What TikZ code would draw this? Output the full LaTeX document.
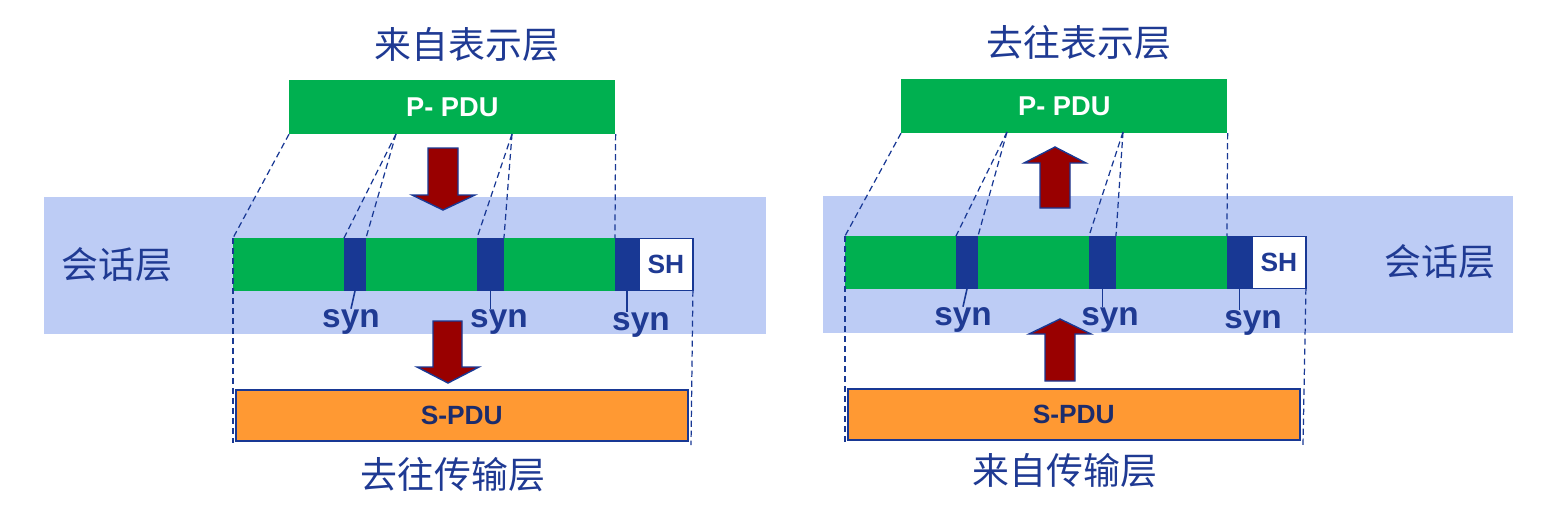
\documentclass[tikz,border=0pt]{standalone}
\usepackage{fontspec}
\setmainfont{Liberation Sans}
\newfontfamily\cjk{Noto Sans CJK SC}
\usetikzlibrary{positioning}

\definecolor{pdugreen}{HTML}{00B050}
\definecolor{synblue}{HTML}{183894}
\definecolor{bandblue}{HTML}{BDCCF5}
\definecolor{spduorange}{HTML}{FF9933}
\definecolor{arrowred}{HTML}{990000}
\definecolor{textblue}{HTML}{1F3A93}
\definecolor{navy}{HTML}{1C2C6C}

\tikzset{
  band/.style={fill=bandblue},
  ppdu/.style={rectangle, fill=pdugreen, inner sep=0pt, anchor=north west,
    minimum width=6.52cm, minimum height=1.07cm, text=white,
    font=\bfseries\fontsize{15.5}{18}\selectfont},
  spdu/.style={rectangle, fill=spduorange, draw=synblue, line width=0.9pt,
    inner sep=0pt, anchor=north west, minimum width=9.04cm, minimum height=1.02cm,
    text=navy, font=\bfseries\fontsize{15}{18}\selectfont},
  dseg/.style={rectangle, fill=pdugreen, inner sep=0pt, outer sep=0pt,
    minimum width=2.22cm, minimum height=1.06cm},
  sseg/.style={rectangle, fill=synblue, inner sep=0pt, outer sep=0pt, minimum height=1.06cm},
  shbox/.style={rectangle, fill=white, draw=synblue, line width=0.9pt, inner sep=0pt,
    outer sep=0pt, minimum width=1.08cm, minimum height=1.04cm, text=textblue,
    font=\bfseries\fontsize{15}{18}\selectfont},
  synlabel/.style={inner sep=0pt, anchor=base, text=textblue, font=\bfseries\fontsize{19}{22}\selectfont},
  synline/.style={synblue, line width=0.9pt},
  guide/.style={synblue, dash pattern=on 3.5pt off 2.2pt, line width=0.7pt},
  bigarrow/.style={fill=arrowred, draw=synblue, line width=0.8pt, line join=miter},
  layername/.style={text=textblue, font=\cjk\fontsize{21}{24}\selectfont},
}

\begin{document}
\begin{tikzpicture}[x=0.02cm, y=-0.02cm]
  \useasboundingbox (0,0) rectangle (1541,522);

  % left: P-PDU from the presentation layer goes down
  \fill[band] (44,197) rectangle (766,334);
  \node[layername] (titleL) at (467,45) {来自表示层};
  \node[layername] (sessL) at (117,265) {会话层};
  \node[ppdu] (pL) at (289,80) {P- PDU};

  \node[dseg, anchor=north west] (g1L) at (233,238) {};
  \node[sseg, minimum width=0.44cm, right=0pt of g1L] (s1L) {};
  \node[dseg, right=0pt of s1L] (g2L) {};
  \node[sseg, minimum width=0.54cm, right=0pt of g2L] (s2L) {};
  \node[dseg, right=0pt of s2L] (g3L) {};
  \node[sseg, minimum width=0.48cm, right=0pt of g3L] (s3L) {};
  \node[shbox, right=0pt of s3L] (shL) {SH};

  \coordinate (aL) at (396,134);
  \coordinate (bL) at (512,134);
  \coordinate (footL1) at (233,443);
  \coordinate (footL2) at (691,445);
  \draw[guide] (pL.south west) -- (g1L.north west);
  \draw[guide] (aL) -- (s1L.north west);
  \draw[guide] (aL) -- (g2L.north west);
  \draw[guide] (bL) -- (s2L.north west);
  \draw[guide] (bL) -- (g3L.north west);
  \draw[guide] (pL.south east) -- (g3L.north east);

  \node[spdu] (sL) at (235,389) {S-PDU};
  \node[layername] (destL) at (453,475) {去往传输层};
  \draw[guide] (g1L.north west) -- (footL1);
  \draw[guide] (shL.south east) -- (footL2);

  \node[synlabel] (syn1L) at (351,327) {syn};
  \node[synlabel] (syn2L) at (499,327) {syn};
  \node[synlabel] (syn3L) at (641,330) {syn};
  \draw[synline] (s1L.south) -- (syn1L.north);
  \draw[synline] (s2L.south) -- (s2L.south |- syn2L.north);
  \draw[synline] (s3L.south) -- (s3L.south |- syn3L.north);

  \draw[bigarrow] (428,148) -- (458,148) -- (458,195) -- (475,195) -- (443,210)
    -- (412,195) -- (428,195) -- cycle;
  \draw[bigarrow] (433,321) -- (462,321) -- (462,367) -- (479,367) -- (448,383)
    -- (417,367) -- (433,367) -- cycle;

  % right: S-PDU from the transport layer goes up
  \fill[band] (823,196) rectangle (1513,333);
  \node[layername] (titleR) at (1079,43) {去往表示层};
  \node[layername] (sessR) at (1440,262) {会话层};
  \node[ppdu] (pR) at (901,79) {P- PDU};

  \node[dseg, anchor=north west] (g1R) at (845,236) {};
  \node[sseg, minimum width=0.44cm, right=0pt of g1R] (s1R) {};
  \node[dseg, right=0pt of s1R] (g2R) {};
  \node[sseg, minimum width=0.54cm, right=0pt of g2R] (s2R) {};
  \node[dseg, right=0pt of s2R] (g3R) {};
  \node[sseg, minimum width=0.50cm, right=0pt of g3R] (s3R) {};
  \node[shbox, right=0pt of s3R] (shR) {SH};

  \coordinate (aR) at (1007,132);
  \coordinate (bR) at (1123,132);
  \coordinate (footR1) at (845,443);
  \coordinate (footR2) at (1303,445);
  \draw[guide] (pR.south west) -- (g1R.north west);
  \draw[guide] (aR) -- (s1R.north west);
  \draw[guide] (aR) -- (g2R.north west);
  \draw[guide] (bR) -- (s2R.north west);
  \draw[guide] (bR) -- (g3R.north west);
  \draw[guide] (pR.south east) -- (g3R.north east);

  \node[spdu] (sR) at (847,388) {S-PDU};
  \node[layername] (destR) at (1065,471) {来自传输层};
  \draw[guide] (g1R.north west) -- (footR1);
  \draw[guide] (shR.south east) -- (footR2);

  \node[synlabel] (syn1R) at (963,325) {syn};
  \node[synlabel] (syn2R) at (1110,325) {syn};
  \node[synlabel] (syn3R) at (1253,328) {syn};
  \draw[synline] (s1R.south) -- (syn1R.north);
  \draw[synline] (s2R.south) -- (s2R.south |- syn2R.north);
  \draw[synline] (s3R.south) -- (s3R.south |- syn3R.north);

  \draw[bigarrow] (1040,208) -- (1070,208) -- (1070,163) -- (1086,163) -- (1055,147)
    -- (1024,163) -- (1040,163) -- cycle;
  \draw[bigarrow] (1045,381) -- (1075,381) -- (1075,334) -- (1091,334) -- (1060,319)
    -- (1029,334) -- (1045,334) -- cycle;
\end{tikzpicture}
\end{document}
